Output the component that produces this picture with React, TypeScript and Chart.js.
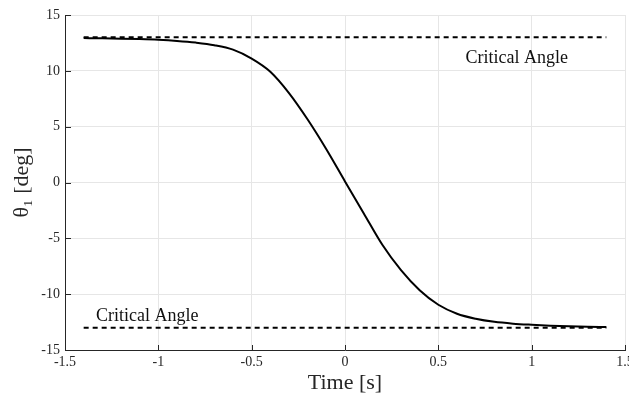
import React, { useEffect, useRef } from 'react';
import { Chart, registerables } from 'chart.js';

Chart.register(...registerables);

// ---- Data ----
const timeValues = [
  -1.4, -1.3, -1.2, -1.1, -1.0, -0.9, -0.8, -0.7, -0.6, -0.5, -0.4, -0.3, -0.2, -0.1,
  0.0, 0.1, 0.2, 0.3, 0.4, 0.5, 0.6, 0.7, 0.8, 0.9, 1.0, 1.1, 1.2, 1.3, 1.4,
];
const thetaValues = [
  12.93, 12.91, 12.88, 12.84, 12.78, 12.68, 12.53, 12.3, 11.9, 11.1, 9.92, 8.01, 5.64, 2.98,
  0.1, -2.75, -5.58, -7.85, -9.65, -10.95, -11.75, -12.2, -12.48, -12.64, -12.74, -12.82, -12.88, -12.92, -12.95,
];
const criticalAngle = 13;
const criticalTimeRange = [-1.4, 1.4];
const xTickValues = [-1.5, -1, -0.5, 0, 0.5, 1, 1.5];
const yTickValues = [-15, -10, -5, 0, 5, 10, 15];
const annotationText = 'Critical Angle';
const upperAnnotation = { x: 0.92, y: 11.15 };
const lowerAnnotation = { x: -1.06, y: -12.0 };

const xTitle = 'Time [s]';
const yTitle = 'θ₁ [deg]';

const AXIS_COLOR = '#262626';
const GRID_COLOR = '#e6e6e6';
const SERIF = '"Liberation Serif", "DejaVu Serif", serif';

const inwardTicks = {
  id: 'inwardTicks',
  afterDatasetsDraw(chart: any) {
    const { ctx, chartArea, scales } = chart;
    const xs = scales.x;
    const ys = scales.y;
    ctx.save();
    ctx.strokeStyle = AXIS_COLOR;
    ctx.lineWidth = 1;
    ctx.beginPath();
    xs.ticks.forEach((t: any) => {
      const px = Math.round(xs.getPixelForValue(t.value)) + 0.5;
      ctx.moveTo(px, chartArea.bottom);
      ctx.lineTo(px, chartArea.bottom - 5);
    });
    ys.ticks.forEach((t: any) => {
      const py = Math.round(ys.getPixelForValue(t.value)) + 0.5;
      ctx.moveTo(chartArea.left, py);
      ctx.lineTo(chartArea.left + 6, py);
    });
    ctx.stroke();
    ctx.restore();
  },
};

const textAnnotations = {
  id: 'textAnnotations',
  afterDatasetsDraw(chart: any) {
    const { ctx, scales } = chart;
    const xs = scales.x;
    const ys = scales.y;
    ctx.save();
    ctx.fillStyle = '#111111';
    ctx.font = `18px ${SERIF}`;
    ctx.textAlign = 'center';
    ctx.textBaseline = 'middle';
    [upperAnnotation, lowerAnnotation].forEach((a) => {
      ctx.fillText(annotationText, xs.getPixelForValue(a.x), ys.getPixelForValue(a.y));
    });
    ctx.restore();
  },
};

export default function App() {
  const canvasRef = useRef<HTMLCanvasElement | null>(null);

  useEffect(() => {
    if (!canvasRef.current) return;
    const curve = timeValues.map((t, i) => ({ x: t, y: thetaValues[i] }));
    const upper = criticalTimeRange.map((t) => ({ x: t, y: criticalAngle }));
    const lower = criticalTimeRange.map((t) => ({ x: t, y: -criticalAngle }));

    const chart = new Chart(canvasRef.current, {
      type: 'line',
      data: {
        datasets: [
          {
            data: upper,
            borderColor: '#000000',
            borderWidth: 2,
            borderDash: [5, 4],
            pointRadius: 0,
            fill: false,
          },
          {
            data: lower,
            borderColor: '#000000',
            borderWidth: 2,
            borderDash: [5, 4],
            pointRadius: 0,
            fill: false,
          },
          {
            data: curve,
            borderColor: '#000000',
            borderWidth: 2,
            pointRadius: 0,
            fill: false,
            cubicInterpolationMode: 'monotone',
          },
        ],
      },
      options: {
        animation: false,
        responsive: true,
        maintainAspectRatio: false,
        layout: { padding: { top: 15, right: 4, left: 0, bottom: 0 } },
        plugins: { legend: { display: false }, tooltip: { enabled: false } },
        scales: {
          x: {
            type: 'linear',
            min: -1.5,
            max: 1.5,
            afterBuildTicks: (scale: any) => {
              scale.ticks = xTickValues.map((v) => ({ value: v }));
            },
            afterFit: (scale: any) => {
              scale.height = 50;
              scale.paddingLeft = 0;
              scale.paddingRight = 0;
            },
            grid: { color: GRID_COLOR, lineWidth: 1, drawTicks: false },
            border: { display: true, color: AXIS_COLOR, width: 1 },
            ticks: {
              autoSkip: false,
              maxRotation: 0,
              padding: 4,
              color: AXIS_COLOR,
              font: { family: SERIF, size: 14 },
              callback: (v: any) => String(v),
            },
            title: {
              display: true,
              text: xTitle,
              color: AXIS_COLOR,
              font: { family: SERIF, size: 22, lineHeight: 1.2 },
              padding: { top: 0, bottom: 4 },
            },
          },
          y: {
            type: 'linear',
            min: -15,
            max: 15,
            afterBuildTicks: (scale: any) => {
              scale.ticks = yTickValues.map((v) => ({ value: v }));
            },
            afterFit: (scale: any) => {
              scale.width = 65;
              scale.paddingTop = 0;
              scale.paddingBottom = 0;
            },
            grid: { color: GRID_COLOR, lineWidth: 1, drawTicks: false },
            border: { display: true, color: AXIS_COLOR, width: 1 },
            ticks: {
              autoSkip: false,
              padding: 5,
              color: AXIS_COLOR,
              font: { family: SERIF, size: 14 },
              callback: (v: any) => String(v),
            },
            title: {
              display: true,
              text: yTitle,
              color: AXIS_COLOR,
              font: { family: SERIF, size: 22, lineHeight: 1.2 },
              padding: { top: 9, bottom: 0 },
            },
          },
        },
      },
      plugins: [inwardTicks, textAnnotations],
    } as any);

    return () => chart.destroy();
  }, []);

  return (
    <div style={{ position: 'absolute', left: 0, top: 0, width: 629, height: 400, background: '#ffffff' }}>
      <canvas ref={canvasRef} />
    </div>
  );
}
